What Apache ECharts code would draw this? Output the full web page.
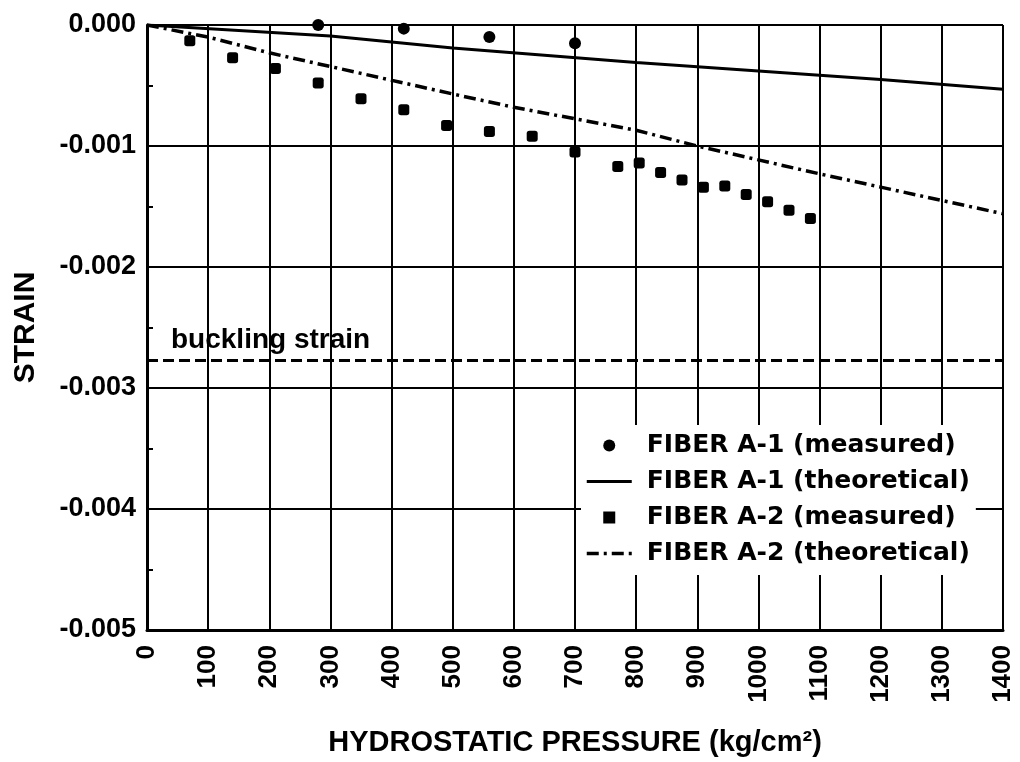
<!DOCTYPE html>
<html>
<head>
<meta charset="utf-8">
<script src="https://cdn.jsdelivr.net/npm/echarts@6/dist/echarts.min.js"></script>
<style>
  html, body { margin: 0; padding: 0; background: #fff; }
  #chart { width: 1020px; height: 762px; }
</style>
</head>
<body>
<div id="chart"></div>
<script>
// fiber A-1, measured
var pressureA1 = [280, 420, 560, 700]
var strainA1 = [0.0, -0.00003, -0.0001, -0.00015]

// fiber A-1, theoretical
var theoryPressureA1 = [0, 300, 500, 800, 1000, 1200, 1400]
var theoryStrainA1 = [0, -0.00009, -0.00019, -0.00031, -0.00038, -0.00045, -0.00053]

// fiber A-2, measured
var pressureA2 = [70, 140, 210, 280, 350, 420, 490, 560, 630, 700, 770, 805, 840, 875, 910, 945, 980, 1015, 1050, 1085]
var strainA2 = [-0.00013, -0.00027, -0.00036, -0.00048, -0.00061, -0.0007, -0.00083, -0.00088, -0.00092, -0.00105,
  -0.00117, -0.00114, -0.00122, -0.00128, -0.00134, -0.00133, -0.0014, -0.00146, -0.00153, -0.0016]

// fiber A-2, theoretical
var theoryPressureA2 = [0, 100, 200, 500, 600, 800, 900, 1100, 1200, 1400]
var theoryStrainA2 = [0, -0.0001, -0.00023, -0.00057, -0.00068, -0.00087, -0.001, -0.00123, -0.00134, -0.00156]

var bucklingStrain = -0.00277

var seriesNames = [
  'FIBER A-1 (measured)',
  'FIBER A-1 (theoretical)',
  'FIBER A-2 (measured)',
  'FIBER A-2 (theoretical)'
]

function pairs(xs, ys) {
  return xs.map(function (x, i) { return [x, ys[i]] })
}

var FONT = '"Liberation Sans", Arial, sans-serif'

var chart = echarts.init(document.getElementById('chart'))
chart.setOption({
  backgroundColor: '#fff',
  animation: false,
  grid: {
    left: 147,
    right: 17,
    top: 25,
    bottom: 131,
    show: false
  },
  legend: {
    orient: 'vertical',
    left: 581,
    top: 425,
    padding: [8, 6, 9, 4],
    backgroundColor: '#fff',
    itemWidth: 45,
    itemHeight: 12,
    itemGap: 11,
    data: [
      { name: seriesNames[0], icon: 'circle' },
      { name: seriesNames[1], itemStyle: { opacity: 0 }, lineStyle: { width: 3 } },
      { name: seriesNames[2], icon: 'path://M0,0h10v10h-10z' },
      { name: seriesNames[3], itemStyle: { opacity: 0 }, lineStyle: { width: 3.5 } }
    ],
    textStyle: {
      fontFamily: '"DejaVu Sans", sans-serif',
      fontWeight: 'bold',
      fontSize: 25,
      lineHeight: 25,
      color: '#000',
      padding: [0, 0, 0, 10]
    }
  },
  xAxis: {
    type: 'value',
    min: 0,
    max: 1400,
    interval: 100,
    name: 'HYDROSTATIC PRESSURE (kg/cm²)',
    nameLocation: 'middle',
    nameGap: 98,
    nameTextStyle: {
      fontFamily: FONT,
      fontWeight: 'bold',
      fontSize: 29,
      color: '#000'
    },
    axisLine: { show: true, onZero: false, lineStyle: { color: '#000', width: 3 } },
    axisTick: { show: false },
    axisLabel: {
      rotate: 90,
      margin: 15,
      fontFamily: FONT,
      fontWeight: 'bold',
      fontSize: 26,
      color: '#000',
      formatter: function (v) { return String(v) }
    },
    splitLine: { show: true, lineStyle: { color: '#000', width: 2 } }
  },
  yAxis: {
    type: 'value',
    min: -0.005,
    max: 0,
    interval: 0.001,
    name: 'STRAIN',
    nameLocation: 'middle',
    nameGap: 106,
    nameTextStyle: {
      fontFamily: FONT,
      fontWeight: 'bold',
      fontSize: 30,
      color: '#000'
    },
    axisLine: { show: true, onZero: false, lineStyle: { color: '#000', width: 3 } },
    axisTick: { show: false, inside: true },
    minorTick: { show: true, splitNumber: 2, length: 6, lineStyle: { color: '#000', width: 2 } },
    axisLabel: {
      margin: 11,
      fontFamily: FONT,
      fontWeight: 'bold',
      fontSize: 27,
      color: '#000',
      formatter: function (v) { return Math.abs(v) < 1e-12 ? '0.000' : v.toFixed(3) }
    },
    splitLine: { show: true, lineStyle: { color: '#000', width: 2 } }
  },
  series: [
    {
      name: seriesNames[0],
      type: 'scatter',
      symbol: 'circle',
      symbolSize: 12,
      itemStyle: { color: '#000', opacity: 1 },
      data: pairs(pressureA1, strainA1),
      z: 5
    },
    {
      name: seriesNames[1],
      type: 'line',
      symbol: 'none',
      showSymbol: false,
      lineStyle: { color: '#000', width: 3 },
      itemStyle: { color: '#000' },
      data: pairs(theoryPressureA1, theoryStrainA1),
      markLine: {
        silent: true,
        precision: 6,
        symbol: ['none', 'none'],
        lineStyle: { color: '#000', width: 3, type: [11, 5] },
        label: {
          show: true,
          position: 'insideStartTop',
          distance: [24, 6],
          formatter: 'buckling strain',
          fontFamily: FONT,
          fontWeight: 'bold',
          fontSize: 28,
          color: '#000'
        },
        data: [{ yAxis: bucklingStrain }]
      }
    },
    {
      name: seriesNames[2],
      type: 'scatter',
      symbol: 'roundRect',
      symbolSize: 11,
      itemStyle: { color: '#000', opacity: 1 },
      data: pairs(pressureA2, strainA2),
      z: 5
    },
    {
      name: seriesNames[3],
      type: 'line',
      symbol: 'none',
      showSymbol: false,
      lineStyle: { color: '#000', width: 3.5, type: [12, 5, 3, 5] },
      itemStyle: { color: '#000' },
      data: pairs(theoryPressureA2, theoryStrainA2)
    }
  ]
})
</script>
</body>
</html>
